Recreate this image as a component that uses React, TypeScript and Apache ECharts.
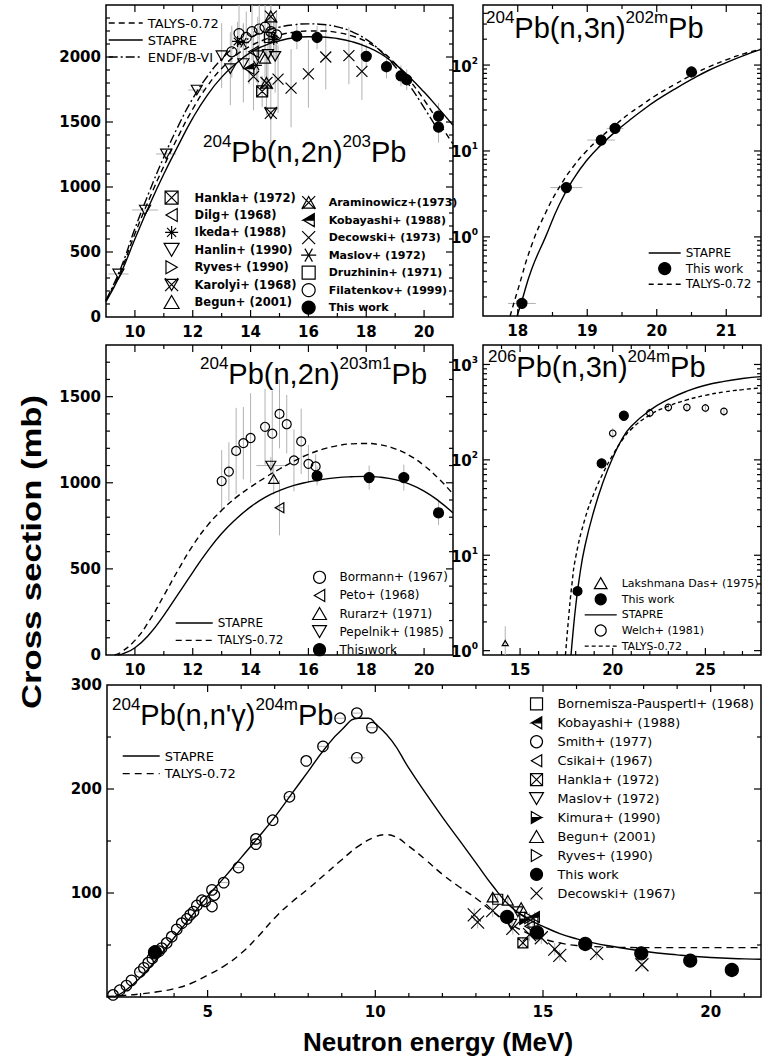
import React, { useEffect, useRef } from "react";
import * as echarts from "echarts";

// ================= DATA =================
// Points are [energy MeV, cross section mb, dSigma, dE]

// ---- Top-left: 204Pb(n,2n)203Pb ----
const tlStapre = [[9.0,118],[9.5,330],[10.0,600],[10.5,860],[11.0,1100],[11.5,1320],[12.0,1530],[12.5,1705],[13.0,1845],[13.5,1950],[14.0,2035],[14.5,2090],[15.0,2125],[15.5,2148],[16.0,2156],[16.5,2154],[17.0,2142],[17.5,2118],[18.0,2080],[18.5,2025],[19.0,1945],[19.5,1845],[20.0,1730],[20.5,1605],[21.0,1475]];
const tlTalys = [[9.0,125],[9.5,350],[10.0,640],[10.5,910],[11.0,1160],[11.5,1390],[12.0,1600],[12.5,1775],[13.0,1912],[13.5,2015],[14.0,2085],[14.5,2135],[15.0,2170],[15.5,2190],[16.0,2200],[16.5,2200],[17.0,2188],[17.5,2162],[18.0,2118],[18.5,2048],[19.0,1950],[19.5,1820],[20.0,1670],[20.5,1500],[21.0,1330]];
const tlEndf = [[9.0,130],[9.5,370],[10.0,680],[10.5,965],[11.0,1230],[11.5,1470],[12.0,1680],[12.5,1850],[13.0,1985],[13.5,2085],[14.0,2150],[14.5,2200],[15.0,2230],[15.5,2248],[16.0,2255],[16.5,2250],[17.0,2232],[17.5,2195],[18.0,2135],[18.5,2045],[19.0,1925],[19.5,1780],[20.0,1610],[20.5,1430]];
const tlHankla = [[14.4,1735,120,0]];
const tlDilg = [[14.1,2040,160,0]];
const tlIkeda = [[13.55,2120,150,0],[14.8,2135,150,0]];
const tlHanlin = [[9.43,331,0,0.35],[10.35,823,0,0.45],[11.08,1254,0,0.35],[12.14,1746,0,0.3],[13.0,2010,250,0],[13.3,1910,280,0],[13.75,1950,300,0],[14.25,2010,300,0],[14.6,2020,300,0],[14.85,2005,280,0]];
const tlRyves = [[14.8,2150,120,0]];
const tlKarolyi = [[14.7,1570,240,0]];
const tlBegun = [[14.5,1990,150,0]];
const tlAramin = [[14.7,2310,260,0],[14.55,1800,250,0]];
const tlKobayashi = [[13.95,1910,120,0]];
const tlDecowski = [[14.1,1850,260,0],[14.95,1830,260,0],[15.4,1760,300,0],[16.0,1870,260,0],[16.6,2000,250,0],[17.4,2010,220,0],[17.85,1890,220,0]];
const tlMaslov = [[14.2,1935,130,0],[13.75,2110,150,0]];
const tlDruzhinin = [[14.65,2150,200,0]];
const tlFilatenkov = [[13.35,2040,200,0],[13.6,2180,220,0],[13.85,2150,200,0],[14.05,2195,220,0],[14.3,2215,200,0],[14.5,2230,220,0],[14.7,2195,200,0],[14.9,2170,180,0]];
const tlThisWork = [[15.6,2160,100,0],[16.3,2150,90,0],[18.0,2005,90,0],[18.7,1925,90,0],[19.2,1855,80,0],[19.4,1825,80,0],[20.5,1545,100,0],[20.5,1460,120,0]];

// ---- Top-right: 204Pb(n,3n)202mPb ----
const trStapre = [[17.99,0.12],[18.05,0.17],[18.2,0.42],[18.4,1.0],[18.6,2.4],[18.8,4.7],[19.0,7.9],[19.2,11.8],[19.4,16.6],[19.6,22.5],[19.8,30],[20.0,39],[20.25,52],[20.5,68],[20.75,87],[21.0,107],[21.25,129],[21.5,152]];
const trTalys = [[17.89,0.12],[18.0,0.24],[18.2,0.8],[18.4,1.9],[18.6,3.8],[18.8,6.6],[19.0,10.2],[19.2,14.6],[19.4,20],[19.6,27],[19.8,35],[20.0,45],[20.25,59],[20.5,76],[20.75,95],[21.0,115],[21.25,135],[21.5,153]];
const trThisWork = [[18.06,0.168,0,0.2],[18.7,3.75,0,0.23],[19.2,13.4,0,0.2],[19.4,18.3,0,0.12],[20.5,83,0,0]];

// ---- Middle-left: 204Pb(n,2n)203m1Pb ----
const mlStapre = [[9.4,0],[9.6,8],[10.0,42],[10.5,120],[11.0,230],[11.5,355],[12.0,480],[12.5,600],[13.0,705],[13.5,790],[14.0,860],[14.5,915],[15.0,955],[15.5,985],[16.0,1005],[16.5,1020],[17.0,1030],[17.5,1035],[18.0,1037],[18.5,1032],[19.0,1018],[19.5,992],[20.0,952],[20.5,895],[21.0,825]];
const mlTalys = [[9.3,0],[9.5,14],[10.0,85],[10.5,200],[11.0,345],[11.5,495],[12.0,635],[12.5,750],[13.0,840],[13.5,915],[14.0,975],[14.5,1030],[15.0,1080],[15.5,1125],[16.0,1165],[16.5,1195],[17.0,1215],[17.5,1226],[18.0,1228],[18.5,1220],[19.0,1197],[19.5,1158],[20.0,1100],[20.5,1025],[21.0,935]];
const mlBormann = [[13.0,1010,180,0],[13.25,1065,170,0],[13.5,1185,250,0],[13.75,1230,210,0],[14.0,1260,260,0],[14.5,1325,220,0],[14.75,1285,250,0],[15.0,1400,200,0],[15.25,1340,170,0],[15.5,1130,180,0],[15.75,1240,190,0],[16.0,1110,110,0],[16.25,1095,70,0]];
const mlPeto = [[15.0,855,160,0.15]];
const mlRurarz = [[14.8,1022,90,0]];
const mlPepelnik = [[14.7,1100,50,0.5]];
const mlThisWork = [[16.3,1040,55,0],[18.1,1030,70,0],[19.3,1030,75,0],[20.5,825,70,0]];

// ---- Middle-right: 206Pb(n,3n)204mPb ----
const mrStapre = [[17.75,0.9],[17.85,1.5],[18.0,2.9],[18.2,5.8],[18.5,12.5],[19.0,30],[19.5,60],[20.0,105],[20.5,165],[21.0,225],[22.0,330],[23.0,430],[24.0,525],[25.0,605],[26.0,665],[27.0,712],[28.0,745]];
const mrTalys = [[17.45,0.9],[17.6,2.0],[17.8,5],[18.0,9.5],[18.5,24],[19.0,45],[19.5,74],[20.0,112],[20.5,160],[21.0,210],[22.0,295],[23.0,365],[24.0,425],[25.0,475],[26.0,515],[27.0,545],[28.0,568]];
const mrLakshmana = [[14.2,1.2,0.6,0]];
const mrThisWork = [[18.1,4.2,0.3,0],[19.4,92,8,0],[20.6,290,25,0]];
const mrWelch = [[20.0,190,25,0],[22.0,310,35,0],[23.0,355,35,0],[24.0,355,35,0],[25.0,350,35,0],[26.0,322,35,0]];

// ---- Bottom: 204Pb(n,n'g)204mPb ----
const bStapre = [[2.2,0],[2.5,5],[3.0,19],[3.5,37],[4.0,57],[4.5,77],[5.0,97],[5.5,115],[6.0,134],[6.5,153],[7.0,173],[7.5,195],[8.0,217],[8.5,239],[9.0,257],[9.5,268],[9.8,268],[10.0,263],[10.5,246],[11.0,220],[11.5,196],[12.0,173],[12.5,151],[13.0,129],[13.5,107],[14.0,88],[14.5,76],[15.0,68],[15.5,61],[16.0,56],[16.5,52],[17.0,49],[18.0,44],[19.0,40.5],[20.0,38],[21.0,36.7],[21.5,36.3]];
const bTalys = [[2.0,0.5],[2.5,1.5],[3.0,3],[3.5,5],[4.0,8],[4.5,13],[5.0,21],[5.5,30],[6.0,42],[6.5,58],[7.0,76],[7.5,91],[8.0,104],[8.5,118],[9.0,132],[9.5,145],[10.0,154],[10.3,156],[10.6,154],[11.0,145],[11.5,132],[12.0,118],[12.5,106],[13.0,95],[13.5,82],[14.0,71],[14.5,62],[15.0,56],[15.5,52],[16.0,49.5],[17.0,48],[18.0,47.5],[19.0,47.5],[20.0,47.5],[21.5,47.5]];
const bBornemisza = [[13.65,94,5,0],[14.7,72,5,0]];
const bKobayashi = [[14.75,77,5,0]];
const bSmith = [[2.18,2,0,0],[2.38,6.5,0,0],[2.58,11,0,0],[2.73,16,0,0],[2.98,24,0,0.12],[3.1,28,0,0],[3.23,33,0,0],[3.35,37,0,0],[3.55,44,0,0],[3.63,47,0,0],[3.78,52,0,0],[3.93,58,0,0],[4.08,65,0,0],[4.23,71,0,0],[4.38,75,0,0],[4.48,79,0,0],[4.58,82,0,0],[4.68,88,0,0],[4.83,93,0,0],[4.93,92,0,0],[5.13,103,0,0],[5.13,87,0,0],[5.2,98,0,0],[5.48,110,0,0.15],[5.92,124.5,0,0.15],[6.44,152,0,0.15],[6.44,147,0,0.15],[6.94,170,0,0],[7.44,192.5,0,0.15],[7.94,227,0,0],[8.44,241,0,0.15],[8.95,268,0,0.15],[9.45,273,0,0.15],[9.9,259,0,0.15],[9.45,230,0,0.25]];
const bCsikai = [[14.6,68,6,0]];
const bHankla = [[14.4,52,5,0]];
const bMaslov = [[14.25,82,6,0],[14.05,70,5,0]];
const bKimura = [[14.45,75,5,0]];
const bBegun = [[13.5,96,5,0],[13.95,93,5,0],[14.35,86,5,0]];
const bRyves = [[14.6,76,5,0]];
const bThisWork = [[3.43,43,2,0],[13.93,77,5,0],[14.82,62,4,0],[16.26,51,3,0],[17.93,42,3,0],[19.39,35,3,0],[20.63,26,2,0]];
const bDecowski = [[12.95,79,6,0],[13.05,72,6,0],[13.5,83,6,0],[14.1,66,6,0],[14.6,60,6,0],[14.95,57,6,0],[15.35,46,6,0],[15.5,40,5,0],[16.6,42,5,0],[17.95,31,4,0]];

// ---- Tick positions ----
const range = (a: number, b: number, s: number, skip: number[] = []) => {
  const out: number[] = [];
  for (let v = a; v <= b + 1e-9; v += s) { const r = Math.round(v * 1000) / 1000; if (!skip.includes(r)) out.push(r); }
  return out;
};
const logMinor = (decades: number[], lo: number, hi: number) => {
  const out: number[] = [];
  decades.forEach((d) => { for (let m = 2; m <= 9; m++) { const v = m * d; if (v > lo && v < hi) out.push(v); } });
  return out;
};
const tlXMajor = [10, 12, 14, 16, 18, 20];
const tlXMinor = [11, 13, 15, 17, 19];
const tlYMajor = [500, 1000, 1500, 2000];
const tlYMinor = range(100, 2300, 100, [500, 1000, 1500, 2000]);
const trXMajor = [18, 19, 20, 21];
const trXMinor = [18.5, 19.5, 20.5];
const trYMajor = [1, 10, 100];
const trYMinor = logMinor([0.1, 1, 10, 100], 0.12, 500);
const mlYMajor = [500, 1000, 1500];
const mlYMinor = range(100, 1700, 100, [500, 1000, 1500]);
const mrXMajor = [15, 20, 25];
const mrXMinor = [14, 16, 17, 18, 19, 21, 22, 23, 24, 26, 27];
const mrYMajor = [1, 10, 100, 1000];
const mrYMinor = logMinor([1, 10, 100], 0.9, 1600);
const bXMajor = [5, 10, 15, 20];
const bXMinor = [3, 4, 6, 7, 8, 9, 11, 12, 13, 14, 16, 17, 18, 19, 21];
const bYMajor = [100, 200];
const bYMinor = [50, 150, 250];

// ================= LAYOUT / STYLE =================
const GRIDS = [
  { left: 106, top: 5, width: 347, height: 312 },
  { left: 483, top: 5, width: 278, height: 311 },
  { left: 106, top: 345, width: 347, height: 310 },
  { left: 483, top: 345, width: 278, height: 310 },
  { left: 107, top: 685, width: 654, height: 312 },
];
const AX: any[] = [
  { x: [9, 21], y: [0, 2400], split: 6, yInt: 500, log: false, xMaj: tlXMajor, xMin: tlXMinor, yMaj: tlYMajor, yMin: tlYMinor },
  { x: [17.5, 21.5], y: [0.12, 500], split: 4, log: true, xMaj: trXMajor, xMin: trXMinor, yMaj: trYMajor, yMin: trYMinor },
  { x: [9, 21], y: [0, 1800], split: 6, yInt: 500, log: false, xMaj: tlXMajor, xMin: tlXMinor, yMaj: mlYMajor, yMin: mlYMinor },
  { x: [13, 28], y: [0.9, 1600], split: 3, log: true, xMaj: mrXMajor, xMin: mrXMinor, yMaj: mrYMajor, yMin: mrYMinor },
  { x: [2, 21.5], y: [0, 300], split: 4, yInt: 100, log: false, hideMinY: true, xMaj: bXMajor, xMin: bXMinor, yMaj: bYMajor, yMin: bYMinor },
];

const SYM: Record<string, string> = {
  circle: "circle",
  square: "path://M0,0L10,0L10,10L0,10Z",
  triUp: "path://M5,0L10,8.66L0,8.66Z",
  triDown: "path://M0,0L10,0L5,8.66Z",
  triLeft: "path://M8.66,0L0,5L8.66,10Z",
  triRight: "path://M0,0L8.66,5L0,10Z",
  xBox: "path://M0,0L10,0L10,10L0,10Z M0,0L10,10 M10,0L0,10",
  cross: "path://M0,0L10,10M10,0L0,10",
  star8: "path://M5,0L5,10M0,5L10,5M1.5,1.5L8.5,8.5M8.5,1.5L1.5,8.5",
  star6: "path://M0,5L10,5M2.5,0.7L7.5,9.3M7.5,0.7L2.5,9.3",
  karolyi: "path://M0,0L10,10M10,0L0,10M0,1L10,1L5,9.66Z",
  aramin: "path://M0,0L10,10M10,0L0,10M5,0.3L10,9.3L0,9.3Z",
  halfLeft: "path://M8.66,0L0,5L8.66,5Z M8.66,5L8.66,10L0,5L8.66,10Z",
  halfRight: "path://M0,5L8.66,5L0,10Z M0,5L0,0L8.66,5L0,0Z",
};

const FONT = "DejaVu Sans";

function pts(name: string, gi: number, data: number[][], symbol: string, size: number, filled = false): any {
  return {
    name, type: "scatter", xAxisIndex: gi, yAxisIndex: gi,
    data: data.map((d) => [d[0], d[1]]),
    symbol: SYM[symbol], symbolSize: size, symbolKeepAspect: true,
    itemStyle: { color: filled ? "#000" : "rgba(255,255,255,0)", borderColor: "#000", borderWidth: 1.2, opacity: 1 },
    z: 4, silent: true, emphasis: { disabled: true },
  };
}
function curve(name: string, gi: number, data: number[][], type: any): any {
  return {
    name, type: "line", xAxisIndex: gi, yAxisIndex: gi, data, symbol: "none", showSymbol: false,
    smooth: 0.5,
    lineStyle: { color: "#000", width: 1.4, type },
    itemStyle: { color: "#000" }, z: 3, silent: true, emphasis: { disabled: true },
  };
}
function errBars(gi: number, groups: number[][][], yFloor: number): any {
  const data: number[][] = [];
  groups.forEach((g) => g.forEach((d) => { if ((d[2] || 0) > 0 || (d[3] || 0) > 0) data.push([d[0], d[1], d[2] || 0, d[3] || 0]); }));
  return {
    type: "custom", xAxisIndex: gi, yAxisIndex: gi, clip: true, silent: true, z: 1, data,
    renderItem: (_p: any, api: any) => {
      const x = api.value(0), y = api.value(1), dy = api.value(2), dx = api.value(3);
      const st = { stroke: "#b2b2b2", lineWidth: 1 };
      const ch: any[] = [];
      if (dy > 0) {
        const a = api.coord([x, Math.max(y - dy, yFloor)]);
        const b = api.coord([x, y + dy]);
        ch.push({ type: "line", shape: { x1: a[0], y1: a[1], x2: b[0], y2: b[1] }, style: st });
      }
      if (dx > 0) {
        const a = api.coord([x - dx, y]);
        const b = api.coord([x + dx, y]);
        ch.push({ type: "line", shape: { x1: a[0], y1: a[1], x2: b[0], y2: b[1] }, style: st });
      }
      return { type: "group", children: ch };
    },
  };
}
function ticks(gi: number): any {
  const a = AX[gi];
  const data: number[][] = [];
  a.xMaj.forEach((v: number) => data.push([v, a.y[0], 0, 7]));
  a.xMin.forEach((v: number) => data.push([v, a.y[0], 0, 4]));
  a.yMaj.forEach((v: number) => data.push([a.x[0], v, 1, 7]));
  a.yMin.forEach((v: number) => data.push([a.x[0], v, 1, 4]));
  return {
    type: "custom", xAxisIndex: gi, yAxisIndex: gi, clip: false, silent: true, z: 6, data,
    renderItem: (_p: any, api: any) => {
      const kind = api.value(2), len = api.value(3);
      const st = { stroke: "#000", lineWidth: 1.2 };
      if (kind === 0) {
        const v = api.value(0);
        const b = api.coord([v, a.y[0]]), t = api.coord([v, a.y[1]]);
        return { type: "group", children: [
          { type: "line", shape: { x1: b[0], y1: b[1], x2: b[0], y2: b[1] - len }, style: st },
          { type: "line", shape: { x1: t[0], y1: t[1], x2: t[0], y2: t[1] + len }, style: st },
        ] };
      }
      const v = api.value(1);
      const l = api.coord([a.x[0], v]), r = api.coord([a.x[1], v]);
      return { type: "group", children: [
        { type: "line", shape: { x1: l[0], y1: l[1], x2: l[0] + len, y2: l[1] }, style: st },
        { type: "line", shape: { x1: r[0], y1: r[1], x2: r[0] - len, y2: r[1] }, style: st },
      ] };
    },
  };
}
function legend(left: number, top: number, items: [string, boolean][], o: any): any {
  return {
    left, top, orient: "vertical", padding: 0, itemGap: o.gap, itemWidth: o.w, itemHeight: o.h,
    selectedMode: false, z: 8,
    formatter: (n: string) => n.split("|")[1],
    textStyle: { color: "#000", fontFamily: FONT, fontWeight: o.bold ? "bold" : "normal", fontSize: o.fs, lineHeight: o.h },
    itemStyle: { borderWidth: 1.2 },
    lineStyle: { width: 1.4 },
    data: items.map(([name, isLine]) => (isLine ? { name, itemStyle: { opacity: 0 } } : { name })),
  };
}
function title(left: number, top: number, parts: [string, boolean][]): any {
  const text = parts.map(([t, sup]) => `{${sup ? "s" : "b"}|${t}}`).join("");
  return {
    type: "text", left, top, z: 2, silent: true,
    style: {
      text,
      rich: {
        b: { fontSize: 29, fontFamily: "Liberation Sans", lineHeight: 33, fill: "#000", verticalAlign: "bottom" },
        s: { fontSize: 17, fontFamily: "Liberation Sans", lineHeight: 17, fill: "#000", verticalAlign: "top" },
      },
    },
  };
}

const labelStyle = { color: "#000", fontFamily: FONT, fontWeight: "bold", fontSize: 15 };

function buildOption(): any {
  const xAxis = AX.map((a, i) => ({
    type: "value", gridIndex: i, min: a.x[0], max: a.x[1], splitNumber: a.split,
    axisLine: { show: false }, axisTick: { show: false }, splitLine: { show: false },
    axisLabel: { ...labelStyle, margin: 7, showMinLabel: false, showMaxLabel: false, formatter: (v: number) => String(v) },
  }));
  const yAxis = AX.map((a, i) =>
    a.log
      ? {
          type: "log", logBase: 10, gridIndex: i, min: a.y[0], max: a.y[1],
          axisLine: { show: false }, axisTick: { show: false }, splitLine: { show: false }, minorTick: { show: false },
          axisLabel: {
            margin: 5, showMinLabel: false, showMaxLabel: false,
            formatter: (v: number) => `{b|10}{s|${Math.round(Math.log10(v))}}`,
            rich: {
              b: { ...labelStyle, lineHeight: 18, verticalAlign: "bottom" },
              s: { color: "#000", fontFamily: FONT, fontWeight: "bold", fontSize: 9, lineHeight: 10, verticalAlign: "top" },
            },
          },
        }
      : {
          type: "value", gridIndex: i, min: a.y[0], max: a.y[1], interval: a.yInt,
          axisLine: { show: false }, axisTick: { show: false }, splitLine: { show: false },
          axisLabel: { ...labelStyle, margin: 5, showMinLabel: !a.hideMinY, showMaxLabel: a.y[1] % a.yInt === 0, formatter: (v: number) => String(v) },
        }
  );

  const series: any[] = [
    // ---- TL ----
    errBars(0, [tlHankla, tlDilg, tlIkeda, tlHanlin, tlRyves, tlKarolyi, tlBegun, tlAramin, tlKobayashi, tlDecowski, tlMaslov, tlDruzhinin, tlFilatenkov, tlThisWork], 0),
    curve("TL|TALYS-0.72", 0, tlTalys, [6, 4]),
    curve("TL|STAPRE", 0, tlStapre, "solid"),
    curve("TL|ENDF/B-VI", 0, tlEndf, [9, 3, 2, 3]),
    pts("TL|Hankla+ (1972)", 0, tlHankla, "xBox", 11),
    pts("TL|Dilg+ (1968)", 0, tlDilg, "triLeft", 11),
    pts("TL|Ikeda+ (1988)", 0, tlIkeda, "star8", 11),
    pts("TL|Hanlin+ (1990)", 0, tlHanlin, "triDown", 11),
    pts("TL|Ryves+ (1990)", 0, tlRyves, "triRight", 11),
    pts("TL|Karolyi+ (1968)", 0, tlKarolyi, "karolyi", 12),
    pts("TL|Begun+ (2001)", 0, tlBegun, "triUp", 11),
    pts("TL|Araminowicz+(1973)", 0, tlAramin, "aramin", 12),
    pts("TL|Kobayashi+ (1988)", 0, tlKobayashi, "halfLeft", 11, true),
    pts("TL|Decowski+ (1973)", 0, tlDecowski, "cross", 11),
    pts("TL|Maslov+ (1972)", 0, tlMaslov, "star6", 11),
    pts("TL|Druzhinin+ (1971)", 0, tlDruzhinin, "square", 10),
    pts("TL|Filatenkov+ (1999)", 0, tlFilatenkov, "circle", 10),
    pts("TL|This work", 0, tlThisWork, "circle", 10, true),
    ticks(0),
    // ---- TR ----
    errBars(1, [trThisWork], 0.12),
    curve("TR|STAPRE", 1, trStapre, "solid"),
    curve("TR|TALYS-0.72", 1, trTalys, [5, 4]),
    pts("TR|This work", 1, trThisWork, "circle", 10, true),
    ticks(1),
    // ---- ML ----
    errBars(2, [mlBormann, mlPeto, mlRurarz, mlPepelnik, mlThisWork], 0),
    curve("ML|STAPRE", 2, mlStapre, "solid"),
    curve("ML|TALYS-0.72", 2, mlTalys, [6, 4]),
    pts("ML|Bormann+ (1967)", 2, mlBormann, "circle", 9),
    pts("ML|Peto+ (1968)", 2, mlPeto, "triLeft", 10),
    pts("ML|Rurarz+ (1971)", 2, mlRurarz, "triUp", 10),
    pts("ML|Pepelnik+ (1985)", 2, mlPepelnik, "triDown", 10),
    pts("ML|This work", 2, mlThisWork, "circle", 10, true),
    ticks(2),
    // ---- MR ----
    errBars(3, [mrLakshmana, mrThisWork, mrWelch], 0.9),
    curve("MR|STAPRE", 3, mrStapre, "solid"),
    curve("MR|TALYS-0.72", 3, mrTalys, [4, 3]),
    pts("MR|Lakshmana Das+ (1975)", 3, mrLakshmana, "triUp", 6),
    pts("MR|This work", 3, mrThisWork, "circle", 9, true),
    pts("MR|Welch+ (1981)", 3, mrWelch, "circle", 6.5),
    ticks(3),
    // ---- Bottom ----
    errBars(4, [bBornemisza, bKobayashi, bSmith, bCsikai, bHankla, bMaslov, bKimura, bBegun, bRyves, bThisWork, bDecowski], 0),
    curve("B|STAPRE", 4, bStapre, "solid"),
    curve("B|TALYS-0.72", 4, bTalys, [7, 5]),
    pts("B|Bornemisza-Pauspertl+ (1968)", 4, bBornemisza, "square", 10),
    pts("B|Kobayashi+ (1988)", 4, bKobayashi, "halfLeft", 11, true),
    pts("B|Smith+ (1977)", 4, bSmith, "circle", 10.5),
    pts("B|Csikai+ (1967)", 4, bCsikai, "triLeft", 11),
    pts("B|Hankla+ (1972)", 4, bHankla, "xBox", 10),
    pts("B|Maslov+ (1972)", 4, bMaslov, "triDown", 11),
    pts("B|Kimura+ (1990)", 4, bKimura, "halfRight", 11, true),
    pts("B|Begun+ (2001)", 4, bBegun, "triUp", 11),
    pts("B|Ryves+ (1990)", 4, bRyves, "triRight", 11),
    pts("B|This work", 4, bThisWork, "circle", 13, true),
    pts("B|Decowski+ (1967)", 4, bDecowski, "cross", 13),
    ticks(4),
  ];

  // symbol-only legends are positioned by their drawn symbols: left = symbol centre - itemHeight/2
  const legends = [
    legend(108, 16, [["TL|TALYS-0.72", true], ["TL|STAPRE", true], ["TL|ENDF/B-VI", true]], { w: 34, h: 14, gap: 3, fs: 13 }),
    legend(163.5, 190.5, [["TL|Hankla+ (1972)", false], ["TL|Dilg+ (1968)", false], ["TL|Ikeda+ (1988)", false], ["TL|Hanlin+ (1990)", false], ["TL|Ryves+ (1990)", false], ["TL|Karolyi+ (1968)", false], ["TL|Begun+ (2001)", false]], { w: 36, h: 13, gap: 3.2, fs: 11.5, bold: true }),
    legend(300.5, 195.5, [["TL|Araminowicz+(1973)", false], ["TL|Kobayashi+ (1988)", false], ["TL|Decowski+ (1973)", false], ["TL|Maslov+ (1972)", false], ["TL|Druzhinin+ (1971)", false], ["TL|Filatenkov+ (1999)", false], ["TL|This work", false]], { w: 30, h: 13, gap: 3.3, fs: 11, bold: true }),
    legend(648, 247, [["TR|STAPRE", true], ["TR|This work", false], ["TR|TALYS-0.72", true]], { w: 32, h: 12, gap: 3, fs: 12 }),
    legend(175, 616, [["ML|STAPRE", true], ["ML|TALYS-0.72", true]], { w: 37, h: 14, gap: 3.4, fs: 12 }),
    legend(312, 570.7, [["ML|Bormann+ (1967)", false], ["ML|Peto+ (1968)", false], ["ML|Rurarz+ (1971)", false], ["ML|Pepelnik+ (1985)", false], ["ML|This work", false]], { w: 30, h: 12, gap: 4.9, fs: 12 }),
    legend(584, 577, [["MR|Lakshmana Das+ (1975)", false], ["MR|This work", false], ["MR|STAPRE", true], ["MR|Welch+ (1981)", false], ["MR|TALYS-0.72", true]], { w: 32, h: 11, gap: 4, fs: 11 }),
    legend(122, 749, [["B|STAPRE", true], ["B|TALYS-0.72", true]], { w: 37, h: 14, gap: 3.6, fs: 13 }),
    legend(529, 697.3, [["B|Bornemisza-Pauspertl+ (1968)", false], ["B|Kobayashi+ (1988)", false], ["B|Smith+ (1977)", false], ["B|Csikai+ (1967)", false], ["B|Hankla+ (1972)", false], ["B|Maslov+ (1972)", false], ["B|Kimura+ (1990)", false], ["B|Begun+ (2001)", false], ["B|Ryves+ (1990)", false], ["B|This work", false], ["B|Decowski+ (1967)", false]], { w: 32, h: 12, gap: 5.74, fs: 12.8 }),
  ];

  const graphic = [
    title(203, 133, [["204", true], ["Pb(n,2n)", false], ["203", true], ["Pb", false]]),
    title(486, 9, [["204", true], ["Pb(n,3n)", false], ["202m", true], ["Pb", false]]),
    title(200, 355, [["204", true], ["Pb(n,2n)", false], ["203m1", true], ["Pb", false]]),
    title(488, 348, [["206", true], ["Pb(n,3n)", false], ["204m", true], ["Pb", false]]),
    title(112, 696, [["204", true], ["Pb(n,n'\u03b3)", false], ["204m", true], ["Pb", false]]),
    {
      type: "text", x: 31, y: 552, rotation: Math.PI / 2, scaleX: 1.24, silent: true,
      style: { text: "Cross section (mb)", fontFamily: "Liberation Sans", fontWeight: "bold", fontSize: 28, fill: "#000", align: "center", verticalAlign: "middle" },
    },
    {
      type: "text", x: 438, y: 1042, silent: true,
      style: { text: "Neutron energy (MeV)", fontFamily: "Liberation Sans", fontWeight: "bold", fontSize: 26, fill: "#000", align: "center", verticalAlign: "middle" },
    },
  ];

  return {
    animation: false,
    backgroundColor: "#fff",
    grid: GRIDS.map((g) => ({ ...g, show: true, borderColor: "#000", borderWidth: 1.5, backgroundColor: "transparent", containLabel: false })),
    xAxis, yAxis, legend: legends, graphic, series,
  };
}

export default function App() {
  const ref = useRef<HTMLDivElement>(null);
  useEffect(() => {
    document.body.style.margin = "0";
    if (!ref.current) return;
    const chart = echarts.init(ref.current, undefined, { renderer: "svg" });
    chart.setOption(buildOption());
    return () => chart.dispose();
  }, []);
  return <div ref={ref} style={{ width: 770, height: 1058 }} />;
}
